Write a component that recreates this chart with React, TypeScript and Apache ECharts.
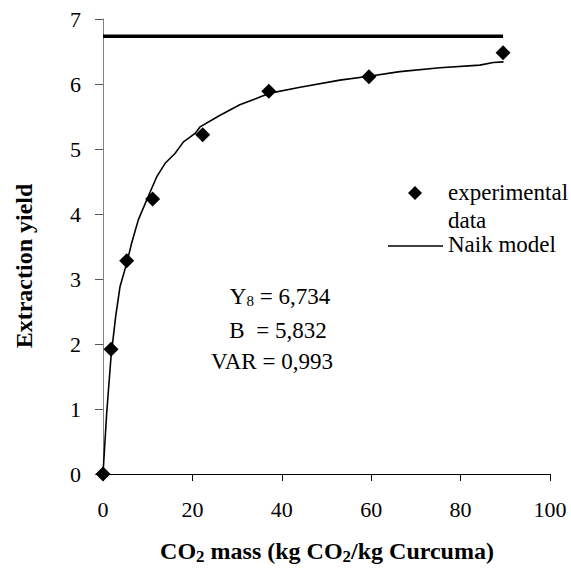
import React, { useEffect, useRef } from "react";
import * as echarts from "echarts";

// Experimental data (CO2 mass, extraction yield)
const expX = [0, 1.8, 5.3, 11.1, 22.3, 37.1, 59.5, 89.5];
const expY = [0, 1.92, 3.28, 4.23, 5.22, 5.89, 6.11, 6.48];

// Naik model curve
const modelX = [0, 0.82, 1.79, 2.83, 3.8, 5.3, 6.4, 7.9, 9.8, 12.0, 13.9, 16.1, 18.0, 20.6, 21.7, 26.2, 30.6, 37.4, 44.1, 53.0, 59.5, 66.4, 75.4, 84.3, 87.3, 89.6];
const modelY = [0, 0.93, 1.8, 2.42, 2.88, 3.24, 3.55, 3.91, 4.22, 4.57, 4.78, 4.93, 5.11, 5.24, 5.34, 5.52, 5.68, 5.86, 5.95, 6.06, 6.12, 6.19, 6.25, 6.29, 6.33, 6.34];

// Asymptote Y-infinity
const yInf = 6.734;
const yInfRange = [0, 89.5];

const xTicks = { min: 0, max: 100, interval: 20 };
const yTicks = { min: 0, max: 7, interval: 1 };

const FONT = "Liberation Serif";

export default function App() {
  const ref = useRef<HTMLDivElement>(null);
  useEffect(() => {
    if (!ref.current) return;
    const chart = echarts.init(ref.current, undefined, { renderer: "svg" });
    const normal = { fontFamily: FONT, fontSize: 23, fill: "#000" };
    const bold = { fontFamily: FONT, fontSize: 24, fontWeight: "bold", color: "#000", lineHeight: 27 };
    chart.setOption({
      animation: false,
      backgroundColor: "#fff",
      textStyle: { fontFamily: FONT },
      grid: { left: 103, right: 21, top: 19, bottom: 96, containLabel: false },
      xAxis: {
        type: "value",
        min: xTicks.min,
        max: xTicks.max,
        interval: xTicks.interval,
        splitLine: { show: false },
        axisLine: { onZero: false, lineStyle: { color: "#000", width: 1 } },
        axisTick: { show: true, inside: false, length: 7, lineStyle: { color: "#000" } },
        axisLabel: { margin: 24, fontFamily: FONT, fontSize: 22, color: "#000" },
      },
      yAxis: {
        type: "value",
        min: yTicks.min,
        max: yTicks.max,
        interval: yTicks.interval,
        splitLine: { show: false },
        axisLine: { show: true, lineStyle: { color: "#808080", width: 1 } },
        axisTick: { show: true, inside: false, length: 8, lineStyle: { color: "#555" } },
        axisLabel: { margin: 22, fontFamily: FONT, fontSize: 22, color: "#000" },
      },
      series: [
        {
          type: "line",
          data: yInfRange.map((x) => [x, yInf]),
          symbol: "none",
          lineStyle: { color: "#000", width: 3.5 },
          z: 2,
        },
        {
          type: "line",
          data: modelX.map((x, i) => [x, modelY[i]]),
          symbol: "none",
          lineStyle: { color: "#000", width: 1.6 },
          z: 3,
        },
        {
          type: "scatter",
          data: expX.map((x, i) => [x, expY[i]]),
          symbol: "diamond",
          symbolSize: [15, 15],
          itemStyle: { color: "#000", opacity: 1 },
          z: 4,
        },
      ],
      graphic: [
        {
          type: "text",
          x: 24,
          y: 266,
          rotation: Math.PI / 2,
          style: {
            text: "Extraction yield",
            fontFamily: FONT,
            fontSize: 24,
            fontWeight: "bold",
            fill: "#000",
            align: "center",
            verticalAlign: "middle",
          },
        },
        {
          type: "text",
          x: 327,
          y: 551,
          style: {
            text: "{b|CO}{s|2}{b| mass (kg CO}{s|2}{b|/kg Curcuma)}",
            fontFamily: FONT,
            fontWeight: "bold",
            fill: "#000",
            align: "center",
            verticalAlign: "middle",
            rich: {
              b: { ...bold },
              s: { fontFamily: FONT, fontSize: 17, fontWeight: "bold", color: "#000", lineHeight: 17, padding: [10, 0, 0, 0] },
            },
          },
        },
        {
          type: "text",
          x: 280,
          y: 296,
          style: {
            text: "{n|Y}{s|8}{n| = 6,734}",
            fontFamily: FONT,
            fill: "#000",
            align: "center",
            verticalAlign: "middle",
            rich: {
              n: { fontFamily: FONT, fontSize: 23, color: "#000", lineHeight: 26 },
              s: { fontFamily: FONT, fontSize: 15, color: "#000", lineHeight: 15, padding: [10, 0, 0, 0] },
            },
          },
        },
        {
          type: "text",
          x: 278,
          y: 330,
          style: { text: "B  = 5,832", ...normal, align: "center", verticalAlign: "middle" },
        },
        {
          type: "text",
          x: 272,
          y: 361,
          style: { text: "VAR = 0,993", ...normal, align: "center", verticalAlign: "middle" },
        },
        {
          type: "polygon",
          shape: { points: [[415, 186], [422, 193], [415, 200], [408, 193]] },
          style: { fill: "#000" },
        },
        {
          type: "text",
          x: 448,
          y: 192,
          style: { text: "experimental", ...normal, align: "left", verticalAlign: "middle" },
        },
        {
          type: "text",
          x: 448,
          y: 220,
          style: { text: "data", ...normal, align: "left", verticalAlign: "middle" },
        },
        {
          type: "line",
          shape: { x1: 388, y1: 246, x2: 443, y2: 246 },
          style: { stroke: "#000", lineWidth: 1.5 },
        },
        {
          type: "text",
          x: 448,
          y: 244,
          style: { text: "Naik model", ...normal, align: "left", verticalAlign: "middle" },
        },
      ],
    });
    return () => chart.dispose();
  }, []);
  return (
    <div
      ref={ref}
      style={{ position: "fixed", left: 0, top: 0, width: 571, height: 570, background: "#fff" }}
    />
  );
}
